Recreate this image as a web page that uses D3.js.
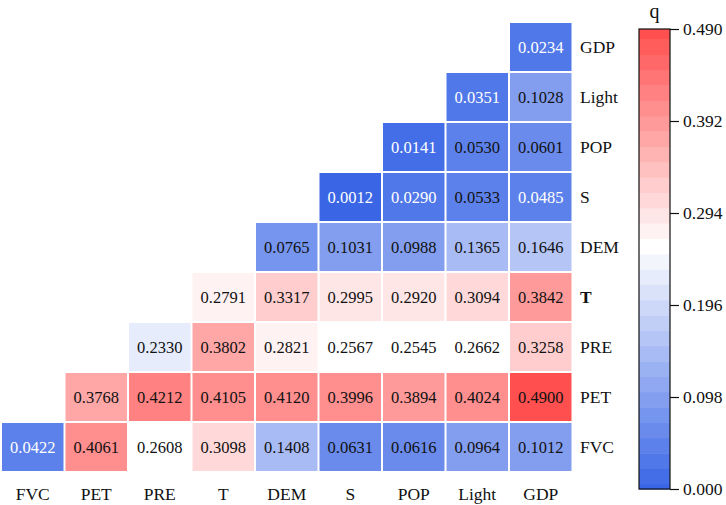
<!DOCTYPE html>
<html>
<head>
<meta charset="utf-8">
<script src="https://cdn.jsdelivr.net/npm/d3@7"></script>
<style>
  html, body { margin: 0; padding: 0; background: #fff; }
  svg text { font-family: "Liberation Serif", "Times New Roman", "DejaVu Serif", serif !important; }
</style>
</head>
<body>
<svg id="chart" width="726" height="505"></svg>
<script>
// ---- data ----
const variables = ["FVC", "PET", "PRE", "T", "DEM", "S", "POP", "Light", "GDP"];
// each row r holds q values for columns r..GDP
const rowFVC   = [0.0422, 0.4061, 0.2608, 0.3098, 0.1408, 0.0631, 0.0616, 0.0964, 0.1012];
const rowPET   = [0.3768, 0.4212, 0.4105, 0.4120, 0.3996, 0.3894, 0.4024, 0.4900];
const rowPRE   = [0.2330, 0.3802, 0.2821, 0.2567, 0.2545, 0.2662, 0.3258];
const rowT     = [0.2791, 0.3317, 0.2995, 0.2920, 0.3094, 0.3842];
const rowDEM   = [0.0765, 0.1031, 0.0988, 0.1365, 0.1646];
const rowS     = [0.0012, 0.0290, 0.0533, 0.0485];
const rowPOP   = [0.0141, 0.0530, 0.0601];
const rowLight = [0.0351, 0.1028];
const rowGDP   = [0.0234];
const rows = [rowFVC, rowPET, rowPRE, rowT, rowDEM, rowS, rowPOP, rowLight, rowGDP];
const colorbarTicks = [0.000, 0.098, 0.196, 0.294, 0.392, 0.490];
const colorbarTitle = "q";

// ---- build cells ----
const cells = [];
rows.forEach((vals, r) => {
  vals.forEach((v, k) => {
    cells.push({ row: variables[r], col: variables[r + k], value: v });
  });
});

const FONT = '"Liberation Serif", "Times New Roman", "DejaVu Serif", serif';
const svg = d3.select("#chart");

const x = d3.scaleBand().domain(variables).range([1, 572.5]).paddingInner(0.0315).paddingOuter(0.01575);
const y = d3.scaleBand().domain(variables.slice().reverse()).range([22, 472]).paddingInner(0.04).paddingOuter(0.02);

// stepped diverging colormap
const vmin = 0, vmax = 0.49;
const nBands = 30;
const bw = (vmax - vmin) / nBands;
const whiteLo = 0.2505;
const mid = whiteLo + bw / 2;
const cont = d3.scaleLinear().domain([0, mid, vmax]).range(["#3A66E6", "#ffffff", "#FF4D4D"]).clamp(true);
function bandIdx(v) { return Math.floor((v - whiteLo) / bw); }
function bandCenter(i) { return whiteLo + (i + 0.5) * bw; }
function color(v) { return cont(bandCenter(bandIdx(v))); }

// ---- cells ----
svg.append("g").selectAll("rect").data(cells).join("rect")
  .attr("x", d => x(d.col))
  .attr("y", d => y(d.row))
  .attr("width", x.bandwidth())
  .attr("height", y.bandwidth())
  .attr("fill", d => color(d.value));

svg.append("g").selectAll("text").data(cells).join("text")
  .attr("x", d => x(d.col) + x.bandwidth() / 2)
  .attr("y", d => y(d.row) + y.bandwidth() / 2)
  .attr("dy", "0.35em")
  .attr("text-anchor", "middle")
  .style("font-family", FONT)
  .style("font-size", "16.5px")
  .attr("fill", d => d.value < 0.05 ? "#ffffff" : "#111111")
  .text(d => d.value.toFixed(4));

// ---- bottom axis labels ----
const xAxis = svg.append("g").attr("transform", "translate(0,472)")
  .call(d3.axisBottom(x).tickSize(0).tickPadding(16));
xAxis.select(".domain").remove();
xAxis.selectAll("text").style("font-size", "17.5px").style("font-family", FONT).attr("fill", "#111");

// ---- right axis labels ----
const yAxis = svg.append("g").attr("transform", "translate(572,0)")
  .call(d3.axisRight(y).tickSize(0).tickPadding(8));
yAxis.select(".domain").remove();
yAxis.selectAll("text").style("font-size", "17.5px").style("font-family", FONT).attr("fill", "#111")
  .style("font-weight", d => d === "T" ? "bold" : "normal");

// ---- colorbar ----
const cbX = 639, cbW = 31, cbTop = 29, cbBot = 489;
const cbScale = d3.scaleLinear().domain([vmin, vmax]).range([cbBot, cbTop]);
const bandList = d3.range(bandIdx(vmin), bandIdx(vmax - 1e-9) + 1);
svg.append("g").selectAll("rect").data(bandList).join("rect")
  .attr("x", cbX)
  .attr("width", cbW)
  .attr("y", i => cbScale(Math.min(vmax, whiteLo + (i + 1) * bw)))
  .attr("height", i => cbScale(Math.max(vmin, whiteLo + i * bw)) - cbScale(Math.min(vmax, whiteLo + (i + 1) * bw)) + 0.5)
  .attr("fill", i => cont(bandCenter(i)));
svg.append("rect").attr("x", cbX).attr("y", cbTop).attr("width", cbW).attr("height", cbBot - cbTop)
  .attr("fill", "none").attr("stroke", "#111").attr("stroke-width", 1.2);

const cbAxis = svg.append("g").attr("transform", `translate(${cbX + cbW},0)`)
  .call(d3.axisRight(cbScale).tickValues(colorbarTicks).tickFormat(d3.format(".3f")).tickSize(9).tickSizeOuter(0).tickPadding(4));
cbAxis.select(".domain").remove();
cbAxis.selectAll("line").attr("stroke", "#111").attr("stroke-width", 1.2);
cbAxis.selectAll("text").style("font-size", "17.5px").style("font-family", FONT).attr("fill", "#111");

svg.append("text").attr("x", cbX + cbW / 2).attr("y", 18).attr("text-anchor", "middle")
  .style("font-family", FONT).style("font-size", "20px").attr("fill", "#111").text(colorbarTitle);
</script>
</body>
</html>
